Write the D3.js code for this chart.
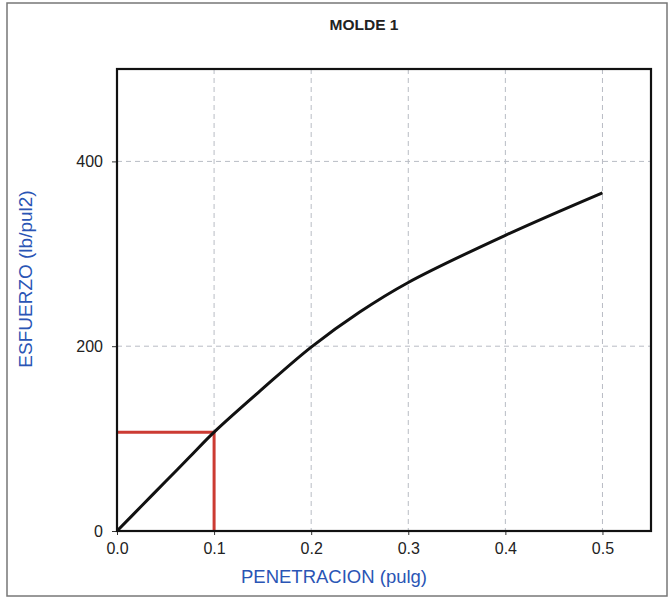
<!DOCTYPE html>
<html><head><meta charset="utf-8">
<script src="https://cdn.jsdelivr.net/npm/d3@7"></script>
<style>body{margin:0;background:#fff;} svg{display:block;}</style>
</head><body>
<svg id="c" width="671" height="599"></svg>
<script>
const penetracion = [0, 0.025, 0.05, 0.075, 0.1, 0.15, 0.2, 0.25, 0.3, 0.4, 0.5];
const esfuerzo    = [0, 26.8, 53.5, 80.3, 107, 154, 199, 237, 269, 320, 366];
const xTicks = [0, 0.1, 0.2, 0.3, 0.4, 0.5];
const yTicks = [0, 200, 400];
const refX = 0.1, refY = 107;
const title = "MOLDE 1";
const xLabel = "PENETRACION (pulg)";
const yLabel = "ESFUERZO (lb/pul2)";

const svg = d3.select("#c");
const m = {l:117, r:651, t:69, b:531};
const x = d3.scaleLinear().domain([0, 0.55]).range([m.l, m.r]);
const y = d3.scaleLinear().domain([0, 500]).range([m.b, m.t]);

svg.append("rect").attr("x",7).attr("y",3).attr("width",660).attr("height",593)
  .attr("fill","#fff").attr("stroke","#777").attr("stroke-width",1.5);

// grid
svg.append("g").selectAll("line").data(xTicks.filter(d=>d>0)).join("line")
  .attr("x1",d=>x(d)).attr("x2",d=>x(d)).attr("y1",m.t).attr("y2",m.b)
  .attr("stroke","#b8bcc4").attr("stroke-width",1).attr("stroke-dasharray","5,4");
svg.append("g").selectAll("line").data(yTicks.filter(d=>d>0)).join("line")
  .attr("x1",m.l).attr("x2",m.r).attr("y1",d=>y(d)).attr("y2",d=>y(d))
  .attr("stroke","#b8bcc4").attr("stroke-width",1).attr("stroke-dasharray","5,4");

// axes
const xa = svg.append("g").attr("transform",`translate(0,${m.b})`)
  .call(d3.axisBottom(x).tickValues(xTicks).tickFormat(d3.format(".1f")).tickSize(4).tickPadding(8));
const ya = svg.append("g").attr("transform",`translate(${m.l},0)`)
  .call(d3.axisLeft(y).tickValues(yTicks).tickSize(5).tickPadding(9));
[xa,ya].forEach(a=>{
  a.select(".domain").remove();
  a.selectAll("line").attr("stroke","#333").attr("stroke-width",1);
  a.selectAll("text").attr("fill","#222").style("font-family","Arial, 'Liberation Sans', sans-serif").style("font-size","16px");
});

// red reference lines
svg.append("path")
  .attr("d", d3.line()([[x(0),y(refY)],[x(refX),y(refY)],[x(refX),y(0)]]))
  .attr("fill","none").attr("stroke","#cc3b33").attr("stroke-width",3);

// curve
const line = d3.line().x((d,i)=>x(penetracion[i])).y(d=>y(d)).curve(d3.curveCatmullRom.alpha(0.5));
svg.append("path").datum(esfuerzo).attr("d",line)
  .attr("fill","none").attr("stroke","#111").attr("stroke-width",3).attr("stroke-linejoin","round");

// plot frame
svg.append("rect").attr("x",m.l).attr("y",m.t).attr("width",m.r-m.l).attr("height",m.b-m.t)
  .attr("fill","none").attr("stroke","#111").attr("stroke-width",2.2);

// texts
svg.append("text").attr("x",364).attr("y",30).attr("text-anchor","middle")
  .style("font-family","Arial, 'Liberation Sans', sans-serif").style("font-weight","bold").style("font-size","15.5px")
  .attr("fill","#222").text(title);
svg.append("text").attr("x",334).attr("y",583).attr("text-anchor","middle")
  .style("font-family","Arial, 'Liberation Sans', sans-serif").style("font-size","18.5px")
  .attr("fill","#2a55b5").text(xLabel);
svg.append("text").attr("transform","translate(32,279) rotate(-90)").attr("text-anchor","middle")
  .style("font-family","Arial, 'Liberation Sans', sans-serif").style("font-size","19px")
  .attr("fill","#2a55b5").text(yLabel);
</script>
</body></html>
